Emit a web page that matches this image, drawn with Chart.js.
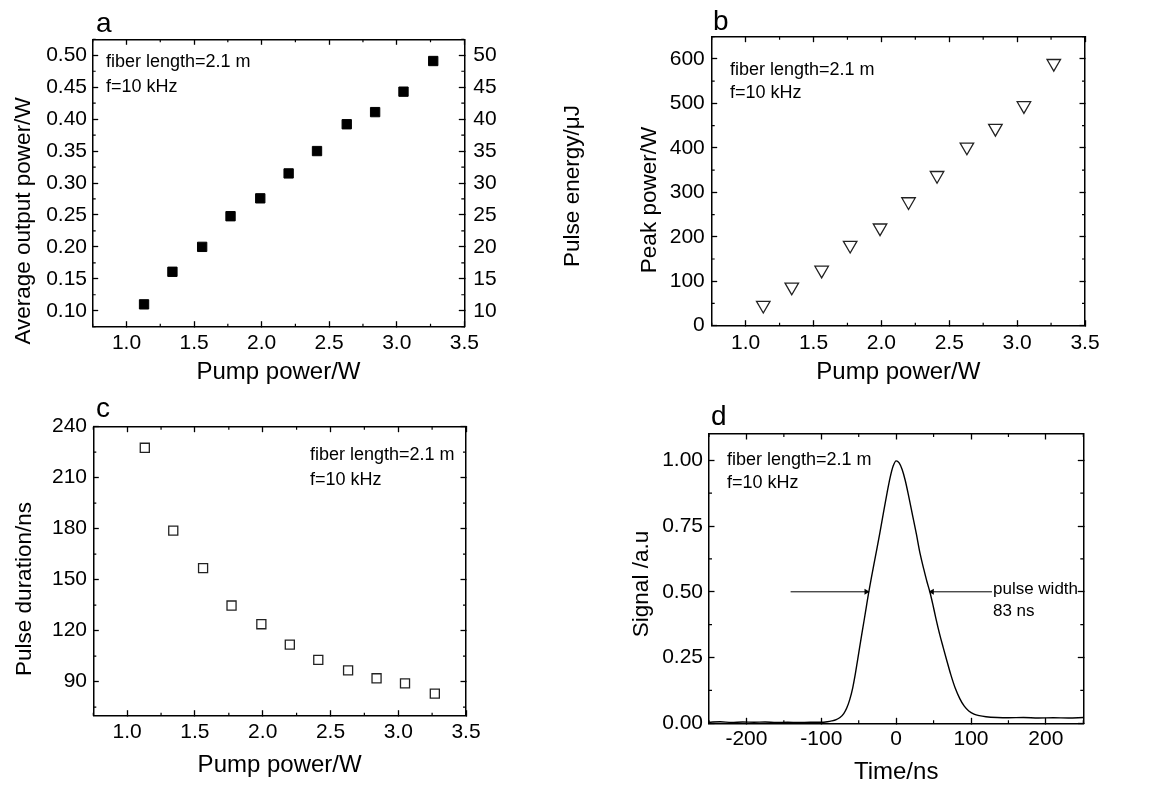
<!DOCTYPE html>
<html>
<head>
<meta charset="utf-8">
<script src="https://cdn.jsdelivr.net/npm/chart.js@4.4.1/dist/chart.umd.min.js"></script>
<style>
  html, body { margin: 0; padding: 0; background: #fff; }
  body { width: 1158px; height: 788px; position: relative; overflow: hidden; }
  canvas { position: absolute; }
</style>
</head>
<body>
<canvas id="pa" width="590" height="394" style="left:0;top:0"></canvas>
<canvas id="pb" width="568" height="394" style="left:590px;top:0"></canvas>
<canvas id="pc" width="590" height="394" style="left:0;top:394px"></canvas>
<canvas id="pd" width="568" height="394" style="left:590px;top:394px"></canvas>
<script>
// Pump-power sweep (panels a-c)
const pumpPower = [1.13, 1.34, 1.56, 1.77, 1.99, 2.20, 2.41, 2.63, 2.84, 3.05, 3.27];
const avgPower = [0.110, 0.161, 0.200, 0.248, 0.276, 0.315, 0.350, 0.392, 0.411, 0.443, 0.491];
const peakPower = [46, 87, 125, 181, 220, 279, 338, 402, 444, 495, 590];
const pulseDuration = [227.6, 178.9, 156.8, 134.8, 123.8, 111.8, 102.8, 96.7, 92.0, 89.0, 83.0];

// Pulse trace (panel d), traced by eye
const timeNs = [-250, -235, -220, -205, -190, -175, -160, -145, -130, -115, -100, -92, -86, -80, -75, -70,
  -66, -62, -58, -55, -52, -49, -46, -43, -40, -37, -33, -28, -22, -17, -12, -8, -4, 0, 4, 8, 12, 17,
  22, 27, 32, 37, 41, 45, 49, 53, 58, 63, 68, 73, 79, 85, 91, 97, 104, 111, 120, 135, 150, 170, 190,
  210, 230, 250];
const signal = [0.004, 0.006, 0.003, 0.005, 0.004, 0.005, 0.003, 0.004, 0.003, 0.004, 0.004, 0.006,
  0.009, 0.014, 0.022, 0.037, 0.058, 0.090, 0.135, 0.180, 0.232, 0.285, 0.337, 0.388, 0.440, 0.492,
  0.555, 0.630, 0.720, 0.800, 0.878, 0.935, 0.978, 0.998, 0.990, 0.965, 0.925, 0.860, 0.790, 0.720,
  0.645, 0.585, 0.540, 0.500, 0.452, 0.400, 0.340, 0.287, 0.235, 0.185, 0.133, 0.094, 0.065, 0.047,
  0.035, 0.029, 0.025, 0.022, 0.021, 0.022, 0.020, 0.021, 0.020, 0.022];

// FWHM arrows in panel d (tail, head) at half maximum
const leftArrowX = [-141, -40];
const rightArrowX = [128, 48];
const halfMax = 0.5;

// Tick values
const pumpTicks = [1.0, 1.5, 2.0, 2.5, 3.0, 3.5];
const avgTicks = [0.10, 0.15, 0.20, 0.25, 0.30, 0.35, 0.40, 0.45, 0.50];
const energyTicks = [10, 15, 20, 25, 30, 35, 40, 45, 50];
const peakTicks = [0, 100, 200, 300, 400, 500, 600];
const durationTicks = [90, 120, 150, 180, 210, 240];
const timeTicks = [-200, -100, 0, 100, 200];
const signalTicks = [0, 0.25, 0.50, 0.75, 1.00];

const FONT = "'Liberation Sans', Arial, Helvetica, sans-serif";
Chart.defaults.font.family = FONT;
Chart.defaults.color = "#000";

// Origin-style axis: inward ticks, no grid, fixed box size so plot areas line up
function axis(position, min, max, ticks, size, o = {}) {
  const horizontal = position === "top" || position === "bottom";
  const tickOpts = { display: !!o.fmt, padding: o.pad || 0, font: { size: 21 }, color: "#000",
    autoSkip: false, maxRotation: 0, minRotation: 0 };
  if (o.fmt) tickOpts.callback = o.fmt;
  return {
    type: "linear", position, min, max,
    afterBuildTicks: (s) => { s.ticks = ticks.map((v) => ({ value: v })); },
    afterFit: (s) => { if (horizontal) s.height = size; else s.width = size; },
    grid: { drawOnChartArea: false, tickLength: -5.5, tickWidth: 1.3, tickColor: "#000" },
    border: { color: "#000", width: 1.5 },
    ticks: tickOpts,
    title: { display: !!o.title, text: o.title || "", font: { size: 24 }, color: "#000", padding: o.titlePad || 0 },
  };
}

// minor ticks + free text (panel letters, notes, vertical titles)
const extras = {
  id: "extras",
  afterDraw(chart, _args, o) {
    const { ctx, chartArea: area } = chart;
    ctx.save();
    ctx.strokeStyle = "#000";
    ctx.lineWidth = 1.2;
    ctx.beginPath();
    for (const [id, step] of Object.entries(o.minor || {})) {
      const s = chart.scales[id];
      const majors = s.ticks.map((t) => t.value);
      const k0 = Math.ceil(s.min / step - 1e-9), k1 = Math.floor(s.max / step + 1e-9);
      for (let k = k0; k <= k1; k++) {
        const v = k * step;
        if (majors.some((m) => Math.abs(m - v) < step / 100)) continue;
        const p = s.getPixelForValue(v);
        if (s.position === "bottom") { ctx.moveTo(p, area.bottom); ctx.lineTo(p, area.bottom - 3); }
        else if (s.position === "top") { ctx.moveTo(p, area.top); ctx.lineTo(p, area.top + 3); }
        else if (s.position === "left") { ctx.moveTo(area.left, p); ctx.lineTo(area.left + 3, p); }
        else { ctx.moveTo(area.right, p); ctx.lineTo(area.right - 3, p); }
      }
    }
    ctx.stroke();
    ctx.fillStyle = "#000";
    for (const t of o.texts || []) {
      ctx.font = `${t.size}px ${FONT}`;
      let x = t.x, y = t.y;
      if (t.data) {
        x = chart.scales.x.getPixelForValue(t.x) + (t.dx || 0);
        y = chart.scales.y.getPixelForValue(t.y) + (t.dy || 0);
      }
      ctx.save();
      ctx.translate(x, y);
      if (t.rotate) ctx.rotate(t.rotate);
      ctx.textAlign = t.align || "left";
      ctx.textBaseline = t.baseline || "alphabetic";
      ctx.fillText(t.text, 0, 0);
      ctx.restore();
    }
    ctx.restore();
  },
};

const note = (x, y1, y2) => [
  { text: "fiber length=2.1 m", x, y: y1, size: 18 },
  { text: "f=10 kHz", x, y: y2, size: 18 },
];
const vTitle = (text, x, y) => ({ text, x, y, size: 22.5, rotate: -Math.PI / 2, align: "center", baseline: "middle" });

function panel(id, datasets, scales, extraOpts) {
  return new Chart(document.getElementById(id), {
    type: "scatter",
    data: { datasets },
    options: {
      responsive: false, animation: false, events: [],
      layout: { padding: 0 },
      plugins: { legend: { display: false }, tooltip: { enabled: false }, extras: extraOpts },
      scales,
    },
    plugins: [extras],
  });
}

const f1 = (v) => v.toFixed(1);
const f2 = (v) => v.toFixed(2);
const f0 = (v) => String(v);

// a: average output power / pulse energy
panel("pa", [{
  data: pumpPower.map((x, i) => ({ x, y: avgPower[i] })),
  pointStyle: "rect", pointRadius: 6.6, backgroundColor: "#000", borderColor: "#000", borderWidth: 1,
}], {
  x: axis("bottom", 0.75, 3.5, pumpTicks, 67.3, { fmt: f1, pad: 9, title: "Pump power/W", titlePad: { bottom: 6.8 } }),
  x2: axis("top", 0.75, 3.5, pumpTicks, 39.3),
  y: axis("left", 0.075, 0.525, avgTicks, 92.7, { fmt: f2, pad: 11.2 }),
  y2: axis("right", 7.5, 52.5, energyTicks, 125.7, { fmt: f0, pad: 14.5 }),
}, {
  minor: { x: 0.25, x2: 0.25, y: 0.025, y2: 2.5 },
  texts: [
    { text: "a", x: 96, y: 32, size: 28 },
    ...note(106, 66.5, 91.5),
    vTitle("Average output power/W", 24, 221),
    vTitle("Pulse energy/\u03bcJ", 573, 186),
  ],
});

// b: peak power
panel("pb", [{
  data: pumpPower.map((x, i) => ({ x, y: peakPower[i] })),
  pointStyle: "triangle", rotation: 180, pointRadius: 7.8, backgroundColor: "rgba(255,255,255,0)",
  borderColor: "#222", borderWidth: 1.3,
}], {
  x: axis("bottom", 0.75, 3.5, pumpTicks, 68.3, { fmt: f1, pad: 10.5, title: "Pump power/W", titlePad: { bottom: 6.8 } }),
  x2: axis("top", 0.75, 3.5, pumpTicks, 36.7),
  y: axis("left", 0, 650, peakTicks, 121.7, { fmt: f0, pad: 12.4 }),
  y2: axis("right", 0, 650, peakTicks, 73),
}, {
  minor: { x: 0.25, x2: 0.25, y: 50, y2: 50 },
  texts: [
    { text: "b", x: 123, y: 30, size: 28 },
    ...note(140, 74.5, 98),
    vTitle("Peak power/W", 60, 200),
  ],
});

// c: pulse duration
panel("pc", [{
  data: pumpPower.map((x, i) => ({ x, y: pulseDuration[i] })),
  pointStyle: "rect", pointRadius: 6.4, backgroundColor: "rgba(255,255,255,0)", borderColor: "#222", borderWidth: 1.3,
}], {
  x: axis("bottom", 0.75, 3.5, pumpTicks, 72.3, { fmt: f1, pad: 9, title: "Pump power/W", titlePad: { bottom: 7.8 } }),
  x2: axis("top", 0.75, 3.5, pumpTicks, 32.7),
  y: axis("left", 70, 240, durationTicks, 93.3, { fmt: f0, pad: 11.8 }),
  y2: axis("right", 70, 240, durationTicks, 124),
}, {
  minor: { x: 0.25, x2: 0.25, y: 15, y2: 15 },
  texts: [
    { text: "c", x: 96, y: 23, size: 28 },
    ...note(310, 66, 91),
    vTitle("Pulse duration/ns", 25, 195),
  ],
});

// d: pulse trace with FWHM arrows
const arrow = (xs, head) => ({
  data: xs.map((x) => ({ x, y: halfMax })),
  showLine: true, borderColor: "#000", borderWidth: 1,
  pointStyle: "triangle", pointRadius: [0, 3.4], pointRotation: [0, head],
  pointBackgroundColor: "#000", pointBorderColor: "#000", pointBorderWidth: 0,
});
panel("pd", [
  {
    data: timeNs.map((x, i) => ({ x, y: signal[i] })),
    showLine: true, borderColor: "#000", borderWidth: 1.4, pointRadius: 0, cubicInterpolationMode: "monotone",
  },
  arrow(leftArrowX, 90),
  arrow(rightArrowX, -90),
], {
  x: axis("bottom", -250, 250, timeTicks, 64.7, { fmt: f0, pad: 9, title: "Time/ns", titlePad: { bottom: 0.8 } }),
  x2: axis("top", -250, 250, timeTicks, 40),
  y: axis("left", 0, 1.1, signalTicks, 119, { fmt: f2, pad: 11.5 }),
  y2: axis("right", 0, 1.1, signalTicks, 74.7),
}, {
  minor: { x: 50, x2: 50, y: 0.125, y2: 0.125 },
  texts: [
    { text: "d", x: 121, y: 31, size: 28 },
    ...note(137, 71, 94),
    vTitle("Signal /a.u", 52, 190),
    { text: "pulse width", data: true, x: rightArrowX[0], y: halfMax, dx: 1, dy: 2, size: 17 },
    { text: "83 ns", data: true, x: rightArrowX[0], y: halfMax, dx: 1, dy: 24, size: 17 },
  ],
});
</script>
</body>
</html>
